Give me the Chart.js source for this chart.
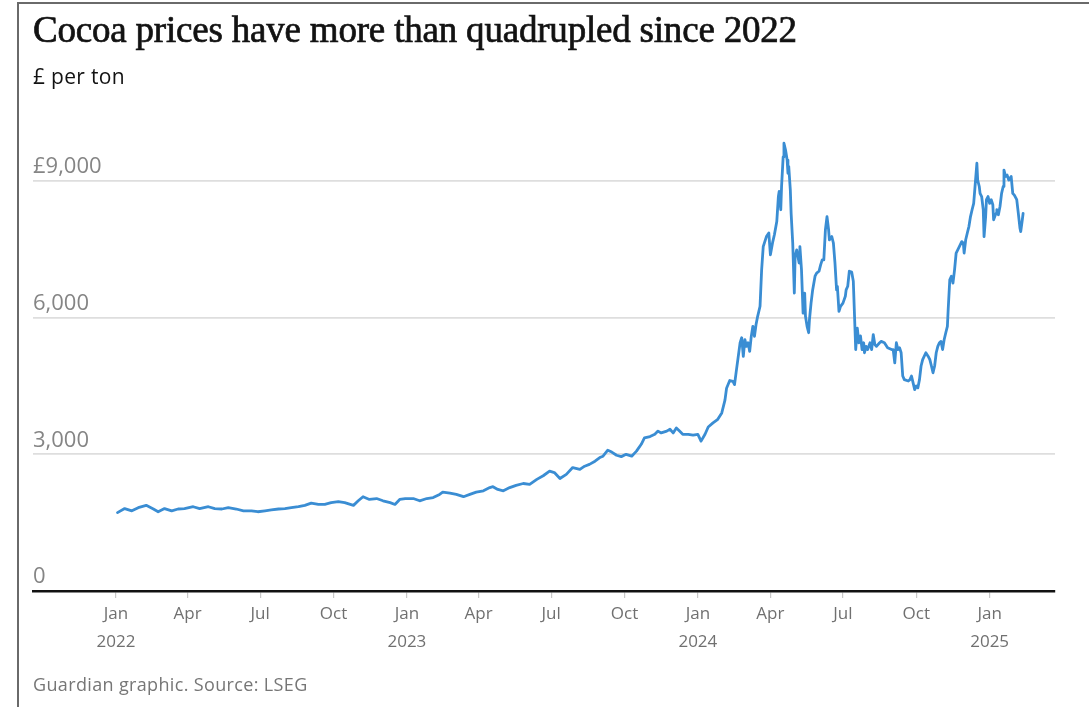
<!DOCTYPE html>
<html>
<head>
<meta charset="utf-8">
<script src="https://cdn.jsdelivr.net/npm/chart.js@4"></script>
<style>
  html, body { margin: 0; padding: 0; background: #fff; }
  body { width: 1089px; height: 707px; position: relative; overflow: hidden; }
  #frame { position: absolute; left: 17px; top: 2px; width: 1100px; height: 720px;
           border-left: 2px solid #6a6a6a; border-top: 2px solid #6a6a6a; box-sizing: border-box; }
  #wrap { position: absolute; left: 0; top: 0; width: 1089px; height: 707px; }
  .txt { position: absolute; left: 33px; white-space: nowrap; line-height: 1; }
  #title { top: 11px; font-family: "Liberation Serif", serif; font-size: 37px; color: #121212; letter-spacing: -0.2px;
           -webkit-text-stroke: 0.7px #121212; }
  #sub { top: 66px; font-family: "Open Sans", sans-serif; font-size: 21px; color: #121212; letter-spacing: 0.3px; }
  #foot { top: 675px; font-family: "Open Sans", sans-serif; font-size: 18px; color: #767676; letter-spacing: 0.35px; }
</style>
</head>
<body>
<div id="wrap"><canvas id="c" width="1089" height="707"></canvas></div>
<div id="frame"></div>
<div class="txt" id="title">Cocoa prices have more than quadrupled since 2022</div>
<div class="txt" id="sub">£ per ton</div>
<div class="txt" id="foot">Guardian graphic. Source: LSEG</div>
<script>
// ---- Data ----
const dates = [
'2022-01-03','2022-01-12','2022-01-21','2022-01-29','2022-02-08','2022-02-17','2022-02-23','2022-03-03','2022-03-12','2022-03-20',
'2022-03-28','2022-04-08','2022-04-16','2022-04-27','2022-05-05','2022-05-14','2022-05-22','2022-06-01','2022-06-10','2022-06-20',
'2022-06-28','2022-07-07','2022-07-15','2022-07-24','2022-08-01','2022-08-09','2022-08-18','2022-08-26','2022-09-03','2022-09-12',
'2022-09-20','2022-09-28','2022-10-07','2022-10-15','2022-10-26','2022-11-01','2022-11-07','2022-11-15','2022-11-24','2022-12-02',
'2022-12-11','2022-12-17','2022-12-23','2022-12-30','2023-01-09','2023-01-17','2023-01-26','2023-02-03','2023-02-11','2023-02-15',
'2023-02-24','2023-03-04','2023-03-13','2023-03-21','2023-03-29','2023-04-07','2023-04-15','2023-04-19','2023-04-25','2023-05-02',
'2023-05-10','2023-05-18','2023-05-27','2023-06-04','2023-06-13','2023-06-21','2023-06-29','2023-07-05','2023-07-12','2023-07-20',
'2023-07-28','2023-08-06','2023-08-12','2023-08-18','2023-08-25','2023-08-31','2023-09-04','2023-09-10','2023-09-15','2023-09-21',
'2023-09-27','2023-10-03','2023-10-10','2023-10-16','2023-10-22','2023-10-26','2023-11-02','2023-11-08','2023-11-12','2023-11-16',
'2023-11-23','2023-11-27','2023-12-01','2023-12-05','2023-12-09','2023-12-13','2023-12-20','2023-12-26','2024-01-01','2024-01-05',
'2024-01-10','2024-01-14','2024-01-20','2024-01-26','2024-01-31','2024-02-04','2024-02-06','2024-02-10','2024-02-14','2024-02-16',
'2024-02-18','2024-02-23','2024-02-25','2024-02-27','2024-02-29','2024-03-02','2024-03-04','2024-03-06','2024-03-08','2024-03-10',
'2024-03-12','2024-03-14','2024-03-16','2024-03-19','2024-03-21','2024-03-23','2024-03-27','2024-03-30','2024-04-01','2024-04-04',
'2024-04-06','2024-04-09','2024-04-11','2024-04-12','2024-04-14','2024-04-15','2024-04-17','2024-04-18','2024-04-20','2024-04-22',
'2024-04-23','2024-04-24','2024-04-26','2024-04-27','2024-04-29','2024-05-01','2024-05-02','2024-05-04','2024-05-07','2024-05-08',
'2024-05-10','2024-05-12','2024-05-14','2024-05-15','2024-05-17','2024-05-19','2024-05-20','2024-05-22','2024-05-24','2024-05-27',
'2024-05-29','2024-06-01','2024-06-03','2024-06-05','2024-06-07','2024-06-09','2024-06-11','2024-06-13','2024-06-14','2024-06-17',
'2024-06-19','2024-06-21','2024-06-23','2024-06-24','2024-06-26','2024-06-28','2024-07-01','2024-07-04','2024-07-05','2024-07-07',
'2024-07-09','2024-07-12','2024-07-14','2024-07-15','2024-07-17','2024-07-19','2024-07-21','2024-07-23','2024-07-25','2024-07-27',
'2024-07-28','2024-07-30','2024-08-01','2024-08-04','2024-08-06','2024-08-08','2024-08-10','2024-08-12','2024-08-16','2024-08-18',
'2024-08-22','2024-08-26','2024-08-31','2024-09-02','2024-09-04','2024-09-06','2024-09-08','2024-09-10','2024-09-12','2024-09-14',
'2024-09-16','2024-09-21','2024-09-23','2024-09-25','2024-09-27','2024-09-29','2024-10-01','2024-10-03','2024-10-05','2024-10-07',
'2024-10-09','2024-10-13','2024-10-16','2024-10-18','2024-10-20','2024-10-22','2024-10-24','2024-10-26','2024-10-28','2024-10-30',
'2024-11-01','2024-11-03','2024-11-05','2024-11-07','2024-11-09','2024-11-10','2024-11-12','2024-11-14','2024-11-16','2024-11-18',
'2024-11-20','2024-11-22','2024-11-24','2024-11-27','2024-11-29','2024-11-30','2024-12-02','2024-12-04','2024-12-06','2024-12-08',
'2024-12-10','2024-12-12','2024-12-13','2024-12-14','2024-12-16','2024-12-17','2024-12-19','2024-12-20','2024-12-22','2024-12-24',
'2024-12-25','2024-12-27','2024-12-28','2024-12-30','2025-01-01','2025-01-03','2025-01-05','2025-01-06','2025-01-09','2025-01-10',
'2025-01-12','2025-01-14','2025-01-16','2025-01-18','2025-01-19','2025-01-21','2025-01-23','2025-01-25','2025-01-28','2025-01-30',
'2025-02-01','2025-02-04','2025-02-06','2025-02-08','2025-02-09','2025-02-11','2025-02-12'
];
const prices = [
1720,1810,1760,1830,1880,1800,1740,1810,1760,1800,
1810,1850,1810,1850,1810,1800,1830,1800,1760,1760,
1740,1760,1780,1800,1810,1830,1850,1880,1930,1900,
1900,1940,1960,1940,1880,1980,2070,2010,2030,1980,
1940,1900,2010,2030,2030,1980,2030,2050,2120,2170,
2150,2120,2070,2120,2170,2200,2270,2290,2230,2200,
2270,2320,2360,2340,2450,2530,2630,2600,2470,2560,
2710,2670,2740,2780,2850,2930,2960,3090,3050,2980,
2950,3000,2960,3070,3220,3360,3390,3440,3510,3470,
3510,3550,3470,3580,3510,3440,3440,3420,3440,3290,
3440,3600,3690,3770,3910,4190,4450,4620,4600,4530,
4800,5450,5560,5150,5520,5370,5450,5260,5590,5810,
5590,5850,6030,6250,7050,7560,7780,7860,7380,7670,
7820,8110,8660,8770,8370,8880,9530,9830,9680,9460,
9170,9320,8800,8290,7640,6540,7340,7490,7200,7560,
7050,6100,6540,6030,5810,5670,5960,6320,6610,6910,
6980,7020,7160,7270,7270,7930,8220,7930,7710,7780,
7640,7200,6610,6690,6140,6250,6320,6470,6610,6690,
7020,7000,6800,6300,5300,5770,5450,5600,5300,5450,
5230,5370,5300,5450,5300,5630,5410,5370,5450,5480,
5450,5340,5300,5300,5010,5450,5300,5340,5230,4720,
4640,4610,4640,4720,4570,4420,4500,4460,4640,4940,
5080,5230,5150,5080,4940,4790,4940,5230,5370,5450,
5480,5300,5520,5670,5810,6180,6830,6910,6760,7050,
7420,7490,7560,7670,7640,7420,7710,7860,8000,8220,
8370,8510,8730,8950,9390,9020,8880,8730,8660,8370,
7780,8220,8590,8660,8510,8590,8480,8150,8290,8370,
8260,8440,8730,8880,9240,9100,9130,9020,9100,8730,
8690,8590,8290,7970,7890,8150,8290
];
const tickDates = ['2022-01-01','2022-04-01','2022-07-01','2022-10-01','2023-01-01','2023-04-01','2023-07-01','2023-10-01',
                   '2024-01-01','2024-04-01','2024-07-01','2024-10-01','2025-01-01'];
const tickLabels = [['Jan','2022'],'Apr','Jul','Oct',['Jan','2023'],'Apr','Jul','Oct',['Jan','2024'],'Apr','Jul','Oct',['Jan','2025']];
const yTicks = [0, 3000, 6000, 9000];
const yTickLabels = ['0', '3,000', '6,000', '£9,000'];
const xRange = ['2021-09-19', '2025-03-24'];
const yRange = [0, 10500];

// ---- helpers ----
const DAY = 86400000;
const base = Date.UTC(2022, 0, 1);
function dayNum(s) { const [y, m, d] = s.split('-').map(Number); return (Date.UTC(y, m - 1, d) - base) / DAY; }
const points = dates.map((d, i) => ({ x: dayNum(d), y: prices[i] }));
const tickVals = tickDates.map(dayNum);

new Chart(document.getElementById('c'), {
  type: 'line',
  data: { datasets: [{ data: points, borderColor: '#3a8dd3', borderWidth: 2.8, pointRadius: 0, tension: 0, fill: false,
                       borderJoinStyle: 'round', borderCapStyle: 'round' }] },
  options: {
    responsive: false, animation: false,
    layout: { padding: { left: 33, right: 34, top: 112.7, bottom: 36 } },
    plugins: { legend: { display: false }, tooltip: { enabled: false } },
    scales: {
      x: {
        type: 'linear', min: dayNum(xRange[0]), max: dayNum(xRange[1]),
        afterBuildTicks: (ax) => { ax.ticks = tickVals.map(v => ({ value: v })); },
        afterFit: (ax) => { ax.height = 80; },
        grid: { drawOnChartArea: false, drawTicks: true, tickLength: 7, color: '#c8c8c8', lineWidth: 1.2 },
        border: { display: true, color: '#121212', width: 2.6 },
        ticks: {
          autoSkip: false, maxRotation: 0, padding: 3, color: '#707070',
          font: { family: 'Open Sans', size: 17, lineHeight: 1.6 },
          callback: (v) => { const i = tickVals.indexOf(v); return i >= 0 ? tickLabels[i] : ''; }
        }
      },
      y: {
        min: yRange[0], max: yRange[1],
        afterBuildTicks: (ax) => { ax.ticks = yTicks.map(v => ({ value: v })); },
        afterFit: (ax) => { ax.width = 0; },
        grid: { drawTicks: false, color: (c) => c.tick && c.tick.value === 0 ? 'rgba(0,0,0,0)' : '#dedede', lineWidth: 1.8 },
        border: { display: false },
        ticks: {
          mirror: true, padding: 0, labelOffset: -14, color: '#858585',
          font: { family: 'Open Sans', size: 22 },
          callback: (v) => { const i = yTicks.indexOf(v); return i >= 0 ? yTickLabels[i] : ''; }
        }
      }
    }
  }
});
</script>
</body>
</html>
